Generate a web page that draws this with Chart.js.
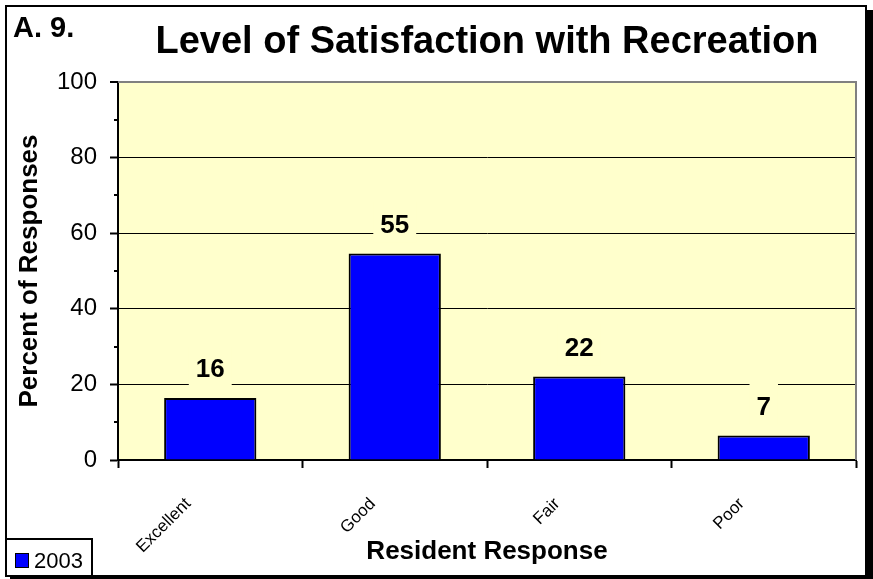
<!DOCTYPE html>
<html>
<head>
<meta charset="utf-8">
<script src="https://cdn.jsdelivr.net/npm/chart.js@4/dist/chart.umd.min.js"></script>
<style>
  html, body { margin: 0; padding: 0; background: #fff; }
  #wrap { width: 873px; height: 579px; }
</style>
</head>
<body>
<div id="wrap"><canvas id="c" width="873" height="579"></canvas></div>
<script>
// data
var categories = ["Excellent", "Good", "Fair", "Poor"];
var values2003 = [16.4, 54.6, 22.1, 6.5];
var yTickValues = [0, 20, 40, 60, 80, 100];
var yMinorValues = [10, 30, 50, 70, 90];
var seriesName = "2003";
var chartTitle = "Level of Satisfaction with Recreation";
var figureTag = "A. 9.";
var xTitle = "Resident Response";
var yTitle = "Percent of Responses";

var FONT = "'Liberation Sans', Arial, sans-serif";
var PLOT_BG = "#FFFFCC";
var BAR_BLUE = "#0000FF";

// frame, title, plot fill, value labels, legend box
var decor = {
    id: "decor",
    beforeDraw: function(chart){
        var ctx = chart.ctx, a = chart.chartArea;
        ctx.save();
        ctx.fillStyle = "#fff";
        ctx.fillRect(0, 0, chart.width, chart.height);
        ctx.fillStyle = "#000";
        ctx.fillRect(10, 10, 863, 569);     // shadow
        ctx.fillStyle = "#fff";
        ctx.fillRect(6, 6, 860, 570);
        ctx.lineWidth = 2;
        ctx.strokeStyle = "#000";
        ctx.strokeRect(6, 6, 860, 570);

        ctx.fillStyle = PLOT_BG;
        ctx.fillRect(a.left, a.top, a.right - a.left, a.bottom - a.top);

        ctx.fillStyle = "#000";
        ctx.textBaseline = "alphabetic";
        ctx.textAlign = "left";
        ctx.font = "bold 29px " + FONT;
        ctx.fillText(figureTag, 13, 37);
        ctx.textAlign = "center";
        ctx.font = "bold 38px " + FONT;
        ctx.fillText(chartTitle, (a.left + a.right) / 2, 53);
        ctx.restore();
    },
    afterDatasetsDraw: function(chart){
        var ctx = chart.ctx, a = chart.chartArea;
        var yScale = chart.scales.y;
        ctx.save();
        // plot border, top and right
        ctx.strokeStyle = "#808080";
        ctx.lineWidth = 2;
        ctx.beginPath();
        ctx.moveTo(a.left, a.top);
        ctx.lineTo(a.right, a.top);
        ctx.lineTo(a.right, a.bottom);
        ctx.stroke();

        // minor ticks
        ctx.strokeStyle = "#000";
        ctx.lineWidth = 2;
        yMinorValues.forEach(function(v){
            var y = Math.round(yScale.getPixelForValue(v));
            ctx.beginPath();
            ctx.moveTo(a.left - 4, y);
            ctx.lineTo(a.left, y);
            ctx.stroke();
        });

        // value labels with a box that hides the gridline
        var meta = chart.getDatasetMeta(0);
        ctx.font = "bold 26px " + FONT;
        ctx.textAlign = "center";
        ctx.textBaseline = "middle";
        meta.data.forEach(function(bar, i){
            var txt = String(Math.round(chart.data.datasets[0].data[i]));
            var w = ctx.measureText(txt).width;
            var cy = bar.y - 28;
            ctx.fillStyle = PLOT_BG;
            ctx.fillRect(bar.x - w / 2 - 7, cy - 24, w + 14, 41);
            ctx.fillStyle = "#000";
            ctx.fillText(txt, bar.x, cy);
        });
        ctx.restore();
    },
    afterDraw: function(chart){
        var ctx = chart.ctx;
        var ds = chart.data.datasets[0];
        ctx.save();
        ctx.fillStyle = "#fff";
        ctx.fillRect(7, 540, 85, 35);
        ctx.strokeStyle = "#000";
        ctx.lineWidth = 2;
        ctx.strokeRect(6, 539, 86, 37);
        ctx.fillStyle = ds.backgroundColor;
        ctx.fillRect(16, 554, 12, 13);
        ctx.lineWidth = 1;
        ctx.strokeRect(15.5, 553.5, 13, 14);
        ctx.fillStyle = "#000";
        ctx.font = "22px " + FONT;
        ctx.textAlign = "left";
        ctx.textBaseline = "alphabetic";
        ctx.fillText(ds.label, 34, 568);
        ctx.restore();
    }
};

new Chart(document.getElementById("c"), {
    type: "bar",
    data: {
        labels: categories,
        datasets: [{
            label: seriesName,
            data: values2003,
            backgroundColor: BAR_BLUE,
            borderColor: "#000",
            borderWidth: 2,
            barPercentage: 0.5,
            categoryPercentage: 1.0
        }]
    },
    options: {
        responsive: false,
        animation: false,
        devicePixelRatio: 1,
        layout: { padding: { left: 10, right: 17, top: 82, bottom: 8 } },
        plugins: {
            legend: { display: false },
            tooltip: { enabled: false }
        },
        scales: {
            x: {
                type: "category",
                offset: true,
                grid: {
                    offset: true,
                    drawOnChartArea: false,
                    drawTicks: true,
                    tickLength: 8,
                    tickColor: "#000",
                    tickWidth: 2
                },
                border: { color: "#000", width: 2 },
                ticks: {
                    color: "#000",
                    font: { family: FONT, size: 17 },
                    minRotation: 45,
                    maxRotation: 45,
                    autoSkip: false,
                    labelOffset: -22,
                    padding: 26
                },
                title: {
                    display: true,
                    text: xTitle,
                    color: "#000",
                    font: { family: FONT, size: 26, weight: "bold" }
                },
                afterFit: function(scale){ scale.height = 111; }
            },
            y: {
                min: 0,
                max: 100,
                afterBuildTicks: function(scale){
                    scale.ticks = yTickValues.map(function(v){ return { value: v }; });
                },
                grid: {
                    color: function(c){ return c.tick && c.tick.value === 100 ? "#808080" : "#000"; },
                    lineWidth: function(c){ return c.tick && c.tick.value === 100 ? 2 : 1; },
                    tickLength: 8,
                    tickColor: "#000",
                    tickWidth: 2
                },
                border: { color: "#000", width: 2 },
                ticks: {
                    color: "#000",
                    font: { family: FONT, size: 24 },
                    padding: 13
                },
                title: {
                    display: true,
                    text: yTitle,
                    color: "#000",
                    font: { family: FONT, size: 26, weight: "bold" }
                },
                afterFit: function(scale){ scale.width = 108; }
            }
        }
    },
    plugins: [decor]
});
</script>
</body>
</html>
